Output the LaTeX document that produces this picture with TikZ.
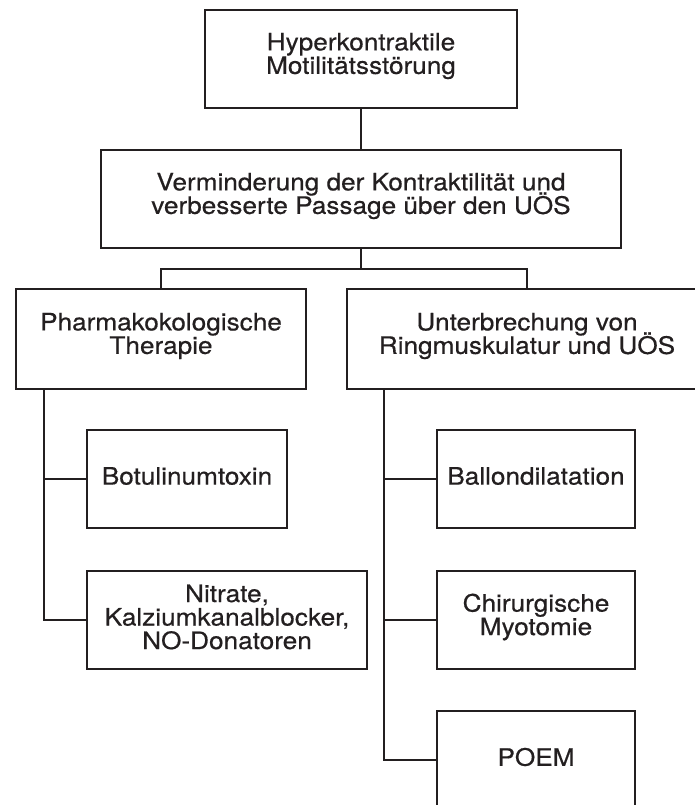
\documentclass[tikz,border=0pt]{standalone}
\usepackage{fontspec}
\setmainfont[FakeStretch=1.09,FakeBold=0.5]{TeX Gyre Heros}
\definecolor{ink}{HTML}{231F20}
\newcommand\mt[1]{\raisebox{3pt}[\height][\depth]{\vbox{\baselineskip=23.5pt\lineskiplimit=-50pt\lineskip=0pt\halign{\hfil##\hfil\cr#1\crcr}}}}
\begin{document}
\begin{tikzpicture}[x=1pt,y=-1pt,
  line width=2pt, draw=ink,
  box/.style={draw=ink, rectangle, text=ink, inner sep=0pt, line width=2pt,
    font=\fontsize{24}{23.5}\selectfont},
  conn/.style={draw=ink, line width=2pt}]
\useasboundingbox (0,0) rectangle (695,805);
\clip (0,0) rectangle (695,805);
\node[box, minimum width=312pt, minimum height=98pt] (top) at (361,59) {\mt{Hyperkontraktile\cr Motilitätsstörung}};
\node[box, minimum width=520pt, minimum height=98pt] (ziel) at (361,199) {\mt{Verminderung der Kontraktilität und\cr verbesserte Passage über den UÖS}};
\node[box, minimum width=290pt, minimum height=100pt] (pharm) at (161,339) {\mt{Pharmakokologische\cr Therapie}};
\node[box, minimum width=360pt, minimum height=100pt] (unter) at (527,339) {\mt{Unterbrechung von\cr Ringmuskulatur und UÖS}};
\node[box, minimum width=200pt, minimum height=98pt] (botu) at (187,479) {\mt{Botulinumtoxin}};
\node[box, minimum width=280pt, minimum height=98pt] (nitr) at (227,620) {\mt{Nitrate,\cr Kalziumkanalblocker,\cr NO-Donatoren}};
\node[box, minimum width=198pt, minimum height=98pt] (ballon) at (536,479) {\mt{Ballondilatation}};
\node[box, minimum width=198pt, minimum height=98pt] (chir) at (536,620) {\mt{Chirurgische\cr Myotomie}};
\node[box, minimum width=198pt, minimum height=98pt] (poem) at (536,760) {\mt{POEM}};
\coordinate (hb) at (361,269);
\coordinate (lx) at (44,0);
\coordinate (rx) at (384,0);
\draw[conn] (top.south) -- (ziel.north);
\draw[conn] (ziel.south) -- (hb);
\draw[conn] (pharm.north) |- (hb) -| (unter.north);
\draw[conn] (lx |- pharm.south) |- (nitr.west);
\draw[conn] (lx |- botu.west) -- (botu.west);
\draw[conn] (rx |- unter.south) |- (poem.west);
\draw[conn] (rx |- ballon.west) -- (ballon.west);
\draw[conn] (rx |- chir.west) -- (chir.west);
\end{tikzpicture}
\end{document}
